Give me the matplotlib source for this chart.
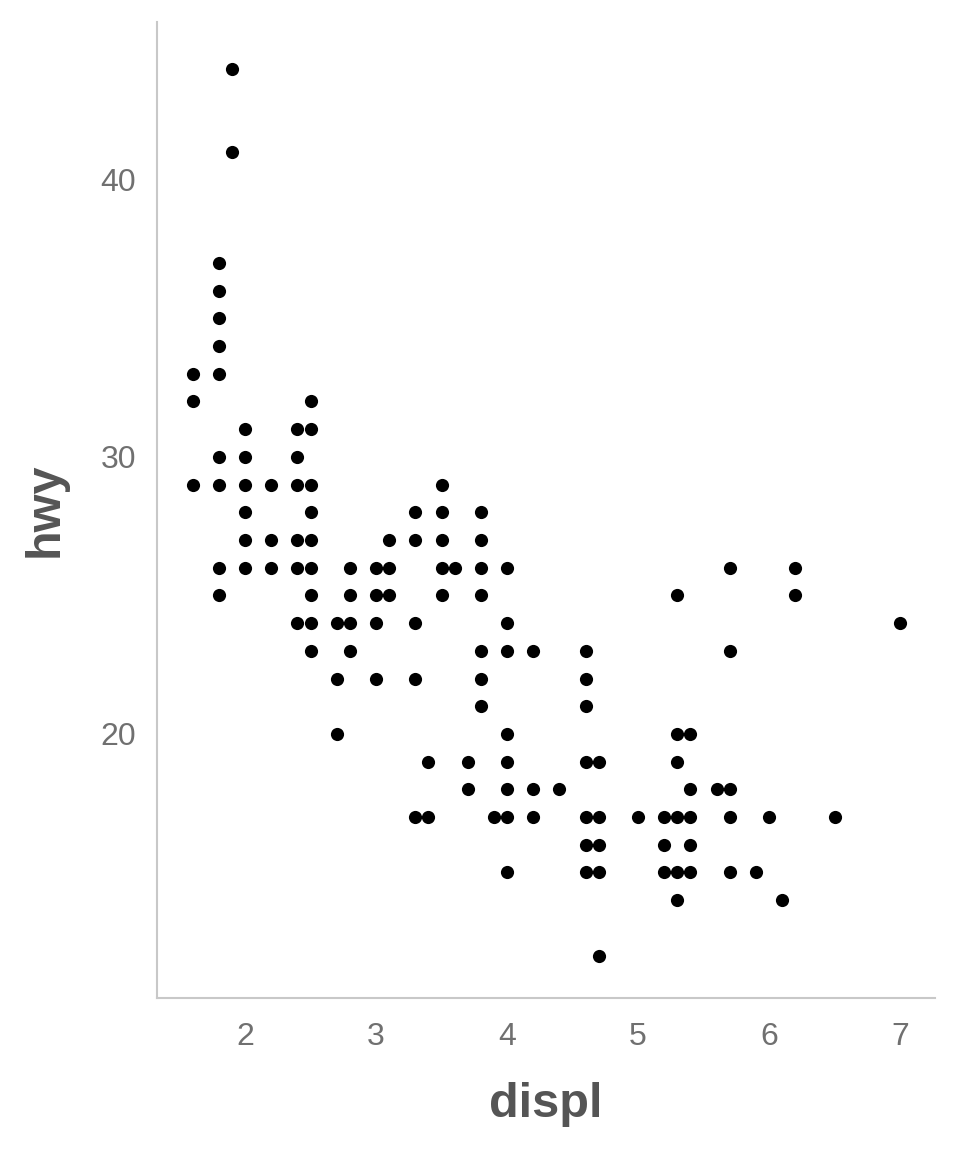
import matplotlib
matplotlib.use("Agg")
import matplotlib.pyplot as plt

# unique (displ, hwy) points
displ_values = [1.6, 1.8, 1.9, 2.0, 2.2, 2.4, 2.5, 2.7, 2.8, 3.0, 3.1, 3.3, 3.4, 3.5, 3.6,
                3.7, 3.8, 3.9, 4.0, 4.2, 4.4, 4.6, 4.7, 5.0, 5.2, 5.3, 5.4, 5.6, 5.7,
                5.9, 6.0, 6.1, 6.2, 6.5, 7.0]
hwy_by_displ = [
    [33, 32, 29],
    [37, 36, 35, 34, 33, 30, 29, 26, 25],
    [44, 41],
    [31, 30, 29, 28, 27, 26],
    [29, 27, 26],
    [31, 30, 29, 27, 26, 24],
    [32, 31, 29, 28, 27, 26, 25, 24, 23],
    [24, 22, 20],
    [26, 25, 24, 23],
    [26, 25, 24, 22],
    [27, 26, 25],
    [28, 27, 24, 22, 17],
    [19, 17],
    [29, 28, 27, 26, 25],
    [26],
    [19, 18],
    [28, 27, 26, 25, 23, 22, 21],
    [17],
    [26, 24, 23, 20, 19, 18, 17, 15],
    [23, 18, 17],
    [18],
    [23, 22, 21, 19, 17, 16, 15],
    [19, 17, 16, 15, 12],
    [17],
    [17, 16, 15],
    [25, 20, 19, 17, 15, 14],
    [20, 18, 17, 16, 15],
    [18],
    [26, 23, 18, 17, 15],
    [15],
    [17],
    [14],
    [26, 25],
    [17],
    [24],
]

x_ticks = [2, 3, 4, 5, 6, 7]
y_ticks = [20, 30, 40]

xs, ys = [], []
for d, hs in zip(displ_values, hwy_by_displ):
    for h in hs:
        xs.append(d)
        ys.append(h)

plt.rcParams['font.family'] = ['Liberation Sans', 'DejaVu Sans']

fig = plt.figure(figsize=(9.6, 11.52), dpi=100)
ax = fig.add_axes([0.1635, 0.1337, 0.974 - 0.1635, 0.981 - 0.1337])

ax.scatter(xs, ys, s=90, color='black', linewidths=0, zorder=3)

ax.set_xlim(1.328, 7.267)
ax.set_ylim(10.47, 45.70)
ax.set_xticks(x_ticks)
ax.set_yticks(y_ticks)
ax.set_xticklabels([str(t) for t in x_ticks])
ax.set_yticklabels([str(t) for t in y_ticks])

for side in ['top', 'right']:
    ax.spines[side].set_visible(False)
for side in ['left', 'bottom']:
    ax.spines[side].set_color('#c8c8c8')
    ax.spines[side].set_linewidth(1.5)

ax.tick_params(axis='both', length=0, labelsize=23, labelcolor='#707070')
ax.tick_params(axis='x', pad=17)
ax.tick_params(axis='y', pad=15)

ax.set_xlabel('displ', fontsize=35, fontweight='bold', color='#555555', labelpad=22)
ax.set_ylabel('hwy', fontsize=35, fontweight='bold', color='#555555', labelpad=24)

fig.savefig('out.png', dpi=100, facecolor='white')
